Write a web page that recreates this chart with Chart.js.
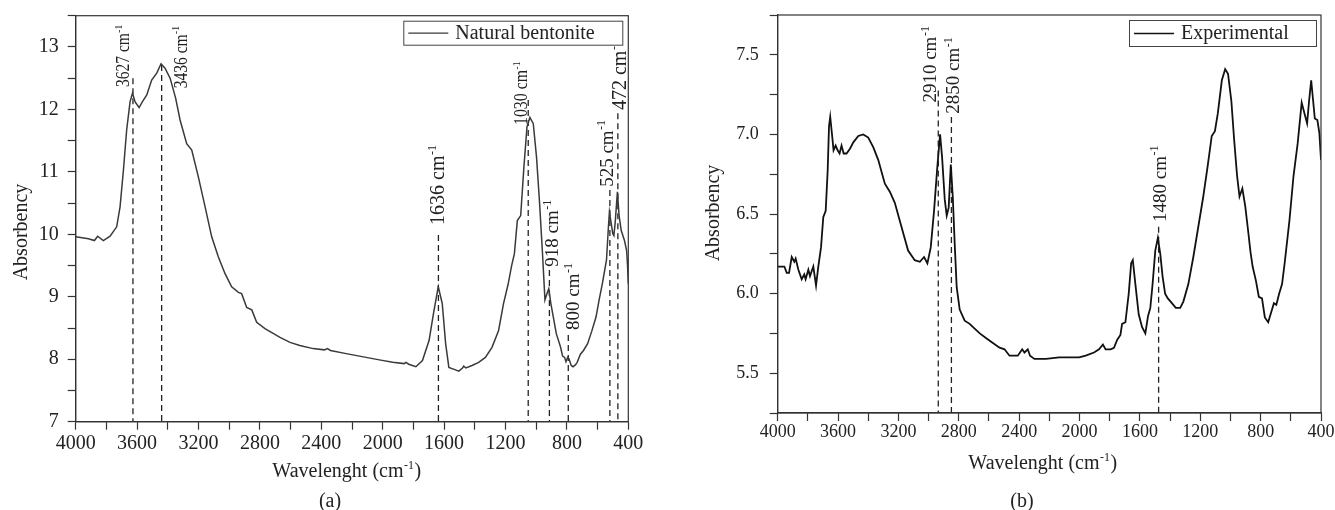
<!DOCTYPE html>
<html>
<head>
<meta charset="utf-8">
<script src="https://cdn.jsdelivr.net/npm/chart.js@4.4.1/dist/chart.umd.min.js"></script>
<style>
  html, body { margin: 0; padding: 0; background: #fff; }
  body { width: 1335px; height: 510px; position: relative; overflow: hidden; }
  canvas { position: absolute; top: 0; }
  #chartA { left: 0; }
  #chartB { left: 680px; }
</style>
</head>
<body>
<canvas id="chartA" width="660" height="510"></canvas>
<canvas id="chartB" width="655" height="510"></canvas>
<script>
// (a) natural bentonite - wavenumber (cm-1) and absorbency
const wnA = [4000, 3917, 3878, 3857, 3820, 3776, 3733, 3711, 3689, 3668, 3646, 3630, 3613, 3587, 3566, 3537,
  3505, 3472, 3444, 3418, 3385, 3349, 3320, 3277, 3244, 3201, 3157, 3114, 3071, 3027, 2984, 2940, 2919, 2886,
  2853, 2821, 2767, 2669, 2604, 2540, 2453, 2380, 2360, 2340, 2238, 2108, 2022, 1935, 1860, 1849, 1830, 1784,
  1741, 1698, 1666, 1638, 1612, 1590, 1569, 1526, 1504, 1480, 1472, 1458, 1418, 1375, 1331, 1288, 1245, 1213,
  1183, 1160, 1142, 1123, 1101, 1080, 1060, 1041, 1019, 998, 979, 960, 943, 930, 918, 905, 897, 869, 842, 828,
  815, 806, 795, 787, 772, 760, 745, 733, 712, 692, 665, 638, 610, 590, 569, 542, 530, 523, 510, 501, 494, 485,
  471, 460, 446, 425, 411, 405, 400];
const absA = [9.96, 9.93, 9.90, 9.97, 9.90, 9.97, 10.12, 10.44, 11.03, 11.67, 12.12, 12.26, 12.12, 12.03, 12.12, 12.23,
  12.47, 12.58, 12.73, 12.66, 12.50, 12.18, 11.83, 11.45, 11.35, 10.92, 10.44, 9.96, 9.64, 9.37, 9.16, 9.07, 9.05, 8.83,
  8.79, 8.59, 8.49, 8.35, 8.27, 8.22, 8.17, 8.15, 8.17, 8.14, 8.09, 8.03, 7.99, 7.95, 7.93, 7.95, 7.92, 7.88,
  7.98, 8.30, 8.78, 9.16, 8.89, 8.25, 7.87, 7.83, 7.81, 7.86, 7.89, 7.86, 7.90, 7.95, 8.03, 8.19, 8.46, 8.89,
  9.20, 9.50, 9.69, 10.22, 10.30, 11.08, 11.72, 11.87, 11.77, 11.24, 10.54, 9.74, 8.95, 9.05, 9.13, 8.90, 8.79, 8.41, 8.20, 8.05,
  8.03, 7.96, 8.03, 8.01, 7.90, 7.88, 7.91, 7.95, 8.08, 8.14, 8.25, 8.45, 8.68, 8.95, 9.21, 9.59, 10.10, 10.36, 10.15, 10.01, 9.98, 10.20,
  10.68, 10.30, 10.06, 9.90, 9.74, 9.50, 9.21];

// marked bands in (a): where the dashed line sits, its label, and how high it reaches
const bandPosA = [3627, 3440, 1637, 1052, 914, 791, 520, 468];
const bandLabA = ['3627', '3436', '1636', '1030', '918', '800', '525', '472'];
const bandTopA = [12.5, 12.71, 9.99, 12.15, 9.43, 8.39, 10.71, 11.94];

// (b) experimental sample
const wnB = [4000, 3956, 3940, 3925, 3907, 3890, 3881, 3863, 3841, 3824, 3815, 3797, 3786, 3764, 3746, 3731,
  3713, 3698, 3682, 3669, 3660, 3652, 3638, 3630, 3616, 3603, 3590, 3577, 3563, 3544, 3521, 3499, 3466, 3433,
  3400, 3367, 3334, 3290, 3257, 3224, 3180, 3136, 3092, 3058, 3030, 3008, 2986, 2964, 2942, 2924, 2911, 2893,
  2880, 2867, 2853, 2840, 2827, 2814, 2794, 2761, 2728, 2695, 2661, 2618, 2574, 2530, 2497, 2464, 2409, 2380,
  2365, 2343, 2328, 2299, 2222, 2135, 2069, 2003, 1959, 1904, 1871, 1845, 1827, 1794, 1772, 1750, 1729, 1718,
  1696, 1674, 1658, 1647, 1630, 1608, 1586, 1564, 1546, 1531, 1516, 1498, 1481, 1465, 1450, 1433, 1415, 1388,
  1362, 1333, 1312, 1279, 1246, 1213, 1180, 1151, 1124, 1103, 1084, 1057, 1035, 1016, 994, 975, 956, 940, 921,
  902, 886, 867, 853, 831, 812, 791, 772, 750, 731, 712, 696, 677, 658, 641, 609, 582, 555, 528, 509, 492, 479,
  465, 452, 441, 424, 411, 400];
const absB = [6.17, 6.17, 6.13, 6.13, 6.23, 6.20, 6.22, 6.15, 6.09, 6.12, 6.09, 6.15, 6.11, 6.17, 6.05, 6.17,
  6.29, 6.48, 6.52, 6.77, 7.05, 7.11, 6.98, 6.90, 6.93, 6.90, 6.88, 6.93, 6.88, 6.88, 6.91, 6.95, 6.99, 7.00,
  6.98, 6.92, 6.84, 6.69, 6.64, 6.57, 6.42, 6.27, 6.21, 6.20, 6.23, 6.19, 6.29, 6.52, 6.80, 7.00, 6.86, 6.59,
  6.49, 6.54, 6.81, 6.61, 6.31, 6.04, 5.90, 5.83, 5.81, 5.78, 5.75, 5.72, 5.69, 5.66, 5.65, 5.61, 5.61, 5.65,
  5.63, 5.65, 5.61, 5.59, 5.59, 5.60, 5.60, 5.60, 5.61, 5.63, 5.65, 5.68, 5.65, 5.65, 5.66, 5.71, 5.74, 5.81,
  5.82, 6.00, 6.19, 6.21, 6.06, 5.87, 5.79, 5.75, 5.86, 5.91, 6.06, 6.27, 6.35, 6.25, 6.11, 6.00, 5.97, 5.94,
  5.91, 5.91, 5.95, 6.06, 6.23, 6.42, 6.61, 6.80, 6.99, 7.02, 7.13, 7.34, 7.41, 7.38, 7.21, 6.96, 6.74, 6.61, 6.66,
  6.55, 6.42, 6.26, 6.17, 6.08, 5.98, 5.97, 5.85, 5.82, 5.88, 5.94, 5.93, 6.00, 6.06, 6.19, 6.46, 6.74, 6.94, 7.20, 7.13, 7.07, 7.21,
  7.34, 7.21, 7.10, 7.09, 7.01, 6.84];

const bandPosB = [2936, 2849, 1476];
const bandLabB = ['2910', '2850', '1480'];
const bandTopB = [7.275, 7.11, 6.42];

const xTicksShown = [4000, 3600, 3200, 2800, 2400, 2000, 1600, 1200, 800, 400];

// label placement: dx = px from the dashed line to the text baseline, lo = y value where the text starts,
// size = font px, sq = horizontal squeeze along the text
const labStyleA = [
  { dx: -4, lo: 12.36, size: 18, sq: 0.86 }, { dx: 25, lo: 12.34, size: 18, sq: 0.86 },
  { dx: 6, lo: 10.15, size: 20, sq: 1 }, { dx: -1, lo: 11.75, size: 18, sq: 0.88 },
  { dx: 9, lo: 9.48, size: 19, sq: 1 }, { dx: 11, lo: 8.47, size: 19, sq: 1 },
  { dx: 3, lo: 10.76, size: 19, sq: 1 }, { dx: 8, lo: 11.99, size: 20, sq: 1 }
];
const labStyleB = [
  { dx: -2, lo: 7.20, size: 19, sq: 1 }, { dx: 8, lo: 7.13, size: 19, sq: 1 }, { dx: 7, lo: 6.45, size: 19, sq: 1 }
];

const SERIF = '"Liberation Serif", "Times New Roman", serif';

function pts(xs, ys) {
    return xs.map((v, i) => ({ x: v, y: ys[i] }));
}

// draws "base" + superscript (+ tail), horizontally, from 0,0 on the alphabetic baseline
function supText(ctx, base, sup, tail, size) {
    ctx.font = size + 'px ' + SERIF;
    ctx.fillText(base, 0, 0);
    let w = ctx.measureText(base).width;
    ctx.font = Math.round(size * 0.62) + 'px ' + SERIF;
    ctx.fillText(sup, w + 0.5, -size * 0.4);
    w += ctx.measureText(sup).width + 1;
    if (tail) {
        ctx.font = size + 'px ' + SERIF;
        ctx.fillText(tail, w, 0);
        w += ctx.measureText(tail).width;
    }
    return w;
}

function supWidth(ctx, base, sup, tail, size) {
    ctx.font = size + 'px ' + SERIF;
    const w = ctx.measureText(base).width + (tail ? ctx.measureText(tail).width : 0);
    ctx.font = Math.round(size * 0.62) + 'px ' + SERIF;
    return w + ctx.measureText(sup).width + 1.5;
}

const decor = {
    id: 'decor',
    afterDraw(chart, args, o) {
        const { ctx, chartArea: a } = chart;
        const xs = chart.scales.x, ys = chart.scales.y;
        ctx.save();
        ctx.fillStyle = '#222';
        ctx.strokeStyle = '#333';

        // frame round the plot
        ctx.lineWidth = 1.2;
        ctx.strokeRect(a.left, a.top, a.right - a.left, a.bottom - a.top);

        // band labels, rotated
        o.bandLab.forEach((lab, i) => {
            const st = o.labStyle[i];
            ctx.save();
            ctx.translate(xs.getPixelForValue(o.bandPos[i]) + st.dx, ys.getPixelForValue(st.lo));
            ctx.rotate(-Math.PI / 2);
            ctx.scale(st.sq, 1);
            ctx.textBaseline = 'alphabetic';
            ctx.textAlign = 'left';
            supText(ctx, lab + ' cm', '-1', '', st.size);
            ctx.restore();
        });

        // legend box
        const ds = chart.data.datasets[0];
        const bx = a.right - o.legendInset - o.legendW, by = a.top + 5;
        ctx.lineWidth = 1;
        ctx.strokeStyle = '#444';
        ctx.fillStyle = '#fff';
        ctx.fillRect(bx, by, o.legendW, o.legendH);
        ctx.strokeRect(bx + 0.5, by + 0.5, o.legendW, o.legendH);
        ctx.strokeStyle = ds.borderColor;
        ctx.lineWidth = 1.3;
        ctx.beginPath();
        ctx.moveTo(bx + 5, by + o.legendH / 2 + 0.5);
        ctx.lineTo(bx + 45, by + o.legendH / 2 + 0.5);
        ctx.stroke();
        ctx.fillStyle = '#222';
        ctx.textAlign = 'left';
        ctx.textBaseline = 'middle';
        ctx.font = o.legendFont + 'px ' + SERIF;
        ctx.fillText(ds.label, bx + 52, by + o.legendH / 2 + 1);

        // axis titles
        ctx.textBaseline = 'middle';
        ctx.textAlign = 'center';
        ctx.save();
        ctx.translate(o.yTitleX, o.yTitleY);
        ctx.rotate(-Math.PI / 2);
        ctx.font = '20px ' + SERIF;
        ctx.fillText('Absorbency', 0, 0);
        ctx.restore();

        ctx.textAlign = 'left';
        ctx.textBaseline = 'alphabetic';
        const tw = supWidth(ctx, 'Wavelenght (cm', '-1', ')', 20);
        ctx.save();
        ctx.translate(o.xTitleX - tw / 2, o.xTitleY + 7);
        supText(ctx, 'Wavelenght (cm', '-1', ')', 20);
        ctx.restore();

        ctx.textAlign = 'center';
        ctx.textBaseline = 'middle';
        ctx.font = '20px ' + SERIF;
        ctx.fillText(o.panel, o.panelX, 502);
        ctx.restore();
    }
};

function bandSets(pos, top, yMin) {
    return pos.map((p, i) => ({
        label: 'band',
        data: [{ x: p, y: top[i] }, { x: p, y: yMin }],
        borderColor: '#222',
        borderWidth: 1.3,
        borderDash: [6, 4],
        pointRadius: 0
    }));
}

function makeChart(id, cfg) {
    const tickFont = { family: SERIF, size: cfg.tickSize };
    return new Chart(document.getElementById(id), {
        type: 'line',
        data: {
            datasets: [{
                label: cfg.name,
                data: pts(cfg.wn, cfg.abs),
                borderColor: cfg.color,
                borderWidth: cfg.lineWidth,
                pointRadius: 0,
                tension: 0
            }].concat(bandSets(cfg.bandPos, cfg.bandTop, cfg.yMin))
        },
        options: {
            responsive: false,
            animation: false,
            devicePixelRatio: 1,
            layout: { padding: { left: 0, right: cfg.padRight, top: cfg.padTop, bottom: 0 } },
            plugins: {
                legend: { display: false },
                tooltip: { enabled: false },
                decor: cfg.decor
            },
            scales: {
                x: {
                    type: 'linear',
                    reverse: true,
                    min: 400,
                    max: 4000,
                    afterFit: s => {
                        s.height = cfg.xHeight;
                        s.paddingLeft = 0; s.paddingRight = 0;
                    },
                    afterBuildTicks: s => {
                        s.ticks = [];
                        for (let v = 400; v <= 4000; v += 200) s.ticks.push({ value: v });
                    },
                    ticks: {
                        font: tickFont,
                        color: '#222',
                        padding: cfg.xPad,
                        maxRotation: 0,
                        autoSkip: false,
                        callback: v => xTicksShown.includes(v) ? String(v) : ''
                    },
                    grid: { drawOnChartArea: false, tickLength: 8, tickColor: '#333', tickWidth: 1.2 },
                    border: { color: '#333', width: 1.2 }
                },
                y: {
                    min: cfg.yMin,
                    max: cfg.yMax,
                    afterFit: s => {
                        s.width = cfg.yWidth;
                        s.paddingTop = 0; s.paddingBottom = 0;
                    },
                    ticks: {
                        stepSize: cfg.yStep,
                        font: tickFont,
                        color: '#222',
                        padding: cfg.yPad,
                        autoSkip: false,
                        callback: cfg.yLabel
                    },
                    grid: { drawOnChartArea: false, tickLength: 8, tickColor: '#333', tickWidth: 1.2 },
                    border: { color: '#333', width: 1.2 }
                }
            }
        },
        plugins: [decor]
    });
}

makeChart('chartA', {
    name: 'Natural bentonite', wn: wnA, abs: absA, color: '#3a3a3a', lineWidth: 1.5,
    bandPos: bandPosA, bandTop: bandTopA,
    yMin: 7, yMax: 13.5, yStep: 0.5,
    yLabel: v => Number.isInteger(v) ? String(v) : '',
    tickSize: 20, xPad: 2, yPad: 9,
    padRight: 31.7, padTop: 15.7, xHeight: 88.3, yWidth: 75.7,
    decor: {
        bandPos: bandPosA, bandLab: bandLabA, labStyle: labStyleA,
        legendW: 219, legendH: 24, legendInset: 6, legendFont: 20,
        yTitleX: 22, yTitleY: 232, xTitleX: 347, xTitleY: 470,
        panel: '(a)', panelX: 330
    }
});

makeChart('chartB', {
    name: 'Experimental', wn: wnB, abs: absB, color: '#111', lineWidth: 1.8,
    bandPos: bandPosB, bandTop: bandTopB,
    yMin: 5.25, yMax: 7.75, yStep: 0.25,
    yLabel: v => Math.abs(v * 2 - Math.round(v * 2)) < 1e-9 ? v.toFixed(1) : '',
    tickSize: 18, xPad: 0, yPad: 11,
    padRight: 14, padTop: 15, xHeight: 97, yWidth: 97.7,
    decor: {
        bandPos: bandPosB, bandLab: bandLabB, labStyle: labStyleB,
        legendW: 187, legendH: 26, legendInset: 5, legendFont: 20,
        yTitleX: 34, yTitleY: 213, xTitleX: 363, xTitleY: 462,
        panel: '(b)', panelX: 342
    }
});
</script>
</body>
</html>
